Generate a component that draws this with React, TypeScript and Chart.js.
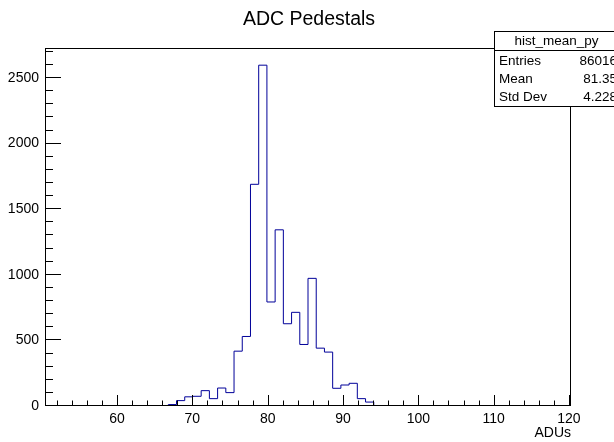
import { useEffect, useRef } from 'react';
import { Chart, registerables } from 'chart.js';

Chart.register(...registerables);

const chartTitle = 'ADC Pedestals';
const xAxisTitle = 'ADUs';
const histName = 'hist_mean_py';
const statLabels = ['Entries', 'Mean', 'Std Dev'];
const statValues = ['86016', '81.35', '4.228'];

const xMin = 50.44;
const xMax = 120.27;
const nBins = 64;
const firstFilledBin = 15;
const binCounts = [11, 41, 70, 74, 117, 56, 137, 102, 418, 530, 1690, 2598, 793, 1343, 627, 714, 469, 973, 441, 411, 135, 160, 173, 56, 30];

const xTickValues = [60, 70, 80, 90, 100, 110, 120];
const yTickValues = [0, 500, 1000, 1500, 2000, 2500];
const yMax = 2729;

const FONT = '"Liberation Sans", Arial, Helvetica, sans-serif';
const W = 614;
const H = 442;
const PLOT = { left: 45, right: 571, top: 48, bottom: 406 };

function buildPoints() {
  const w = (xMax - xMin) / nBins;
  const pts: { x: number; y: number }[] = [];
  for (let i = 0; i < nBins; i++) {
    const k = i - firstFilledBin;
    const c = k >= 0 && k < binCounts.length ? binCounts[k] : 0;
    pts.push({ x: xMin + i * w, y: c });
  }
  pts.push({ x: xMax, y: 0 });
  return pts;
}

const rootPlugin = {
  id: 'rootFrame',
  afterDatasetsDraw(chart: any) {
    const { ctx, chartArea } = chart;
    const xs = chart.scales.x;
    const ys = chart.scales.y;
    const { left, right, top, bottom } = chartArea;
    ctx.save();
    ctx.strokeStyle = '#000';
    ctx.lineWidth = 1;
    ctx.strokeRect(left + 0.5, top + 0.5, right - left - 1, bottom - top - 1);
    ctx.beginPath();
    for (let v = 0; v <= yMax; v += 100) {
      const y = Math.round(ys.getPixelForValue(v)) - 0.5;
      const len = yTickValues.includes(v) ? 16 : 8;
      ctx.moveTo(left, y);
      ctx.lineTo(left + len, y);
    }
    for (let v = 52; v <= xMax; v += 2) {
      const x = Math.round(xs.getPixelForValue(v)) + 0.5;
      const len = xTickValues.includes(v) ? 11 : 5.5;
      ctx.moveTo(x, bottom);
      ctx.lineTo(x, bottom - len);
    }
    ctx.stroke();
    ctx.restore();
  },
  afterDraw(chart: any) {
    const { ctx } = chart;
    ctx.save();
    ctx.fillStyle = '#000';
    ctx.font = `19.5px ${FONT}`;
    ctx.textAlign = 'center';
    ctx.textBaseline = 'middle';
    ctx.fillText(chartTitle, 309, 20);
    const bx = 494.5, by = 31.5, bw = 140, bh = 75;
    ctx.fillStyle = '#fff';
    ctx.fillRect(bx, by, bw, bh);
    ctx.strokeStyle = '#000';
    ctx.lineWidth = 1;
    ctx.strokeRect(bx, by, bw, bh);
    ctx.beginPath();
    ctx.moveTo(bx, 50.5);
    ctx.lineTo(bx + bw, 50.5);
    ctx.stroke();
    ctx.fillStyle = '#000';
    ctx.font = `13.5px ${FONT}`;
    ctx.textAlign = 'center';
    ctx.fillText(histName, 556.5, 41);
    const rowY = [61, 79, 97];
    statLabels.forEach((lab, i) => {
      ctx.textAlign = 'left';
      ctx.fillText(lab, 499, rowY[i]);
      ctx.textAlign = 'right';
      ctx.fillText(statValues[i], 617, rowY[i]);
    });
    ctx.restore();
  },
};

export default function App() {
  const ref = useRef<HTMLCanvasElement | null>(null);
  useEffect(() => {
    if (!ref.current) return;
    const tickFont = { family: FONT, size: 14 };
    const chart = new Chart(ref.current, {
      type: 'line',
      data: {
        datasets: [
          {
            data: buildPoints(),
            stepped: true,
            borderColor: '#000099',
            borderWidth: 1,
            pointRadius: 0,
            fill: false,
            tension: 0,
          },
        ],
      },
      options: {
        responsive: false,
        animation: false,
        events: [],
        layout: { padding: { top: PLOT.top, right: W - PLOT.right, left: 0, bottom: 0 } },
        plugins: { legend: { display: false }, tooltip: { enabled: false }, title: { display: false } },
        scales: {
          x: {
            type: 'linear',
            min: xMin,
            max: xMax,
            afterBuildTicks: (s: any) => {
              s.ticks = xTickValues.map((v) => ({ value: v }));
            },
            afterFit: (s: any) => {
              s.height = H - PLOT.bottom;
            },
            grid: { display: false, drawTicks: false },
            border: { display: false },
            ticks: {
              font: tickFont,
              color: '#000',
              padding: 5,
              maxRotation: 0,
              autoSkip: false,
              callback: (v: any) => String(v),
            },
            title: {
              display: true,
              text: xAxisTitle,
              align: 'end',
              color: '#000',
              font: { family: FONT, size: 14 },
              padding: { top: 0, bottom: 0 },
            },
          },
          y: {
            type: 'linear',
            min: 0,
            max: yMax,
            afterBuildTicks: (s: any) => {
              s.ticks = yTickValues.map((v) => ({ value: v }));
            },
            afterFit: (s: any) => {
              s.width = PLOT.left;
            },
            grid: { display: false, drawTicks: false },
            border: { display: false },
            ticks: {
              font: tickFont,
              color: '#000',
              padding: 6,
              autoSkip: false,
              callback: (v: any) => String(v),
            },
          },
        },
      },
      plugins: [rootPlugin],
    } as any);
    return () => chart.destroy();
  }, []);
  return (
    <div style={{ position: 'absolute', left: 0, top: 0, width: W, height: H, background: '#fff' }}>
      <canvas ref={ref} width={W} height={H} style={{ display: 'block' }} />
    </div>
  );
}
